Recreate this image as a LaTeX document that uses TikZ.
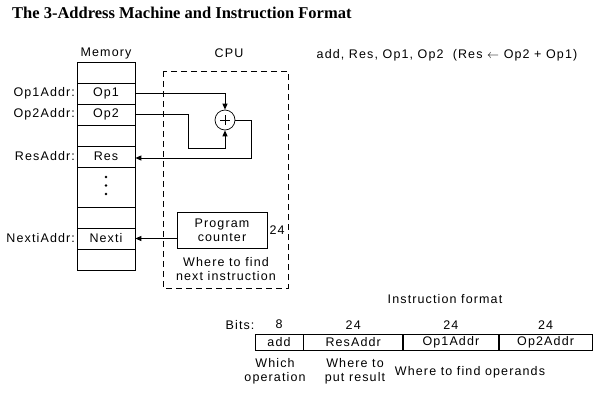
\documentclass[tikz,border=0pt]{standalone}
\usepackage{fontspec}
\setmainfont{Liberation Serif}
\newfontfamily\figfont[LetterSpace=9]{Liberation Sans}
\usetikzlibrary{arrows.meta,positioning}

\begin{document}
\begin{tikzpicture}[x=1pt,y=-1pt,
        every node/.style={font=\figfont\fontsize{12.5}{14}\selectfont},
        cell/.style={draw,line width=0.7pt,minimum width=58pt,minimum height=21pt,inner sep=0pt},
        field/.style={draw,line width=0.7pt,minimum height=16pt,inner sep=0pt},
        addr/.style={anchor=east,inner sep=1.5pt},
        wire/.style={line width=0.9pt,-{Triangle[length=6pt,width=5pt]}}]
    \useasboundingbox (0,0) rectangle (606,405);
    \node[anchor=base west,inner sep=0pt,font=\rmfamily\bfseries\fontsize{16.5}{18}\selectfont] (title) at (12,18.5) {The 3-Address Machine and Instruction Format};
    % memory
    \node (memlbl) at (106,53) {Memory};
    \node[cell] (m0) at (106,72.5) {};
    \node[cell] (op1) at (106,93.5) {Op1};
    \node[cell] (op2) at (106,114.5) {Op2};
    \node[cell] (m3) at (106,135.5) {};
    \node[cell] (res) at (106,156.5) {Res};
    \node[cell,minimum height=40pt] (gap) at (106,187) {};
    \node[cell] (m5) at (106,217.5) {};
    \node[cell] (nexti) at (106,238.5) {Nexti};
    \node[cell] (m7) at (106,259.5) {};
    \foreach \y in {177,185.5,194} \fill (106,\y) circle (1.3);
    \node[addr] at (op1.west) {Op1Addr:};
    \node[addr] at (op2.west) {Op2Addr:};
    \node[addr] at (res.west) {ResAddr:};
    \node[addr] at (nexti.west) {NextiAddr:};
    % cpu
    \node (cpulbl) at (229,53) {CPU};
    \draw[line width=0.7pt,dash pattern=on 6pt off 4pt] (163,71) rectangle (288,288);
    \node[draw,line width=0.7pt,circle,minimum size=20pt,inner sep=0pt] (add) at (225,120) {};
    \draw[line width=0.7pt] (add.center) +(-5,0) -- +(5,0) +(0,-5) -- +(0,5);
    \coordinate (bend) at (188,148);
    \coordinate (back) at (251,158);
    \draw[wire] (op1.east) -| (add.north);
    \draw[wire] (op2.east) -| (bend) -| (add.south);
    \draw[wire] (add.east) -| (back) -- (back -| res.east);
    \node[draw,line width=0.7pt,minimum width=90pt,minimum height=36pt,align=center,inner sep=0pt] (pc) at (222,230) {Program\\counter};
    \node[anchor=west,inner sep=2pt] (pcbits) at (pc.east) {24};
    \node[align=center] (where) at (226,269) {Where to find\\next instruction};
    \draw[wire] (pc.west |- nexti) -- (nexti.east);
    \node (instr) at (447,55) {add, Res, Op1, Op2\ \ (Res $\leftarrow$ Op2 + Op1)};
    % instruction format
    \node (fmtlbl) at (445,299) {Instruction format};
    \node[field,minimum width=48pt] (fadd) at (279,342) {add};
    \node[field,minimum width=99pt,anchor=west] (fres) at (fadd.east) {ResAddr};
    \node[field,minimum width=95pt,anchor=west] (fop1) at (fres.east) {Op1Addr};
    \node[field,minimum width=93pt,anchor=west] (fop2) at (fop1.east) {Op2Addr};
    \node[above=1pt of fadd] (b8) {8};
    \node[above=1pt of fres] (b24a) {24};
    \node[above=1pt of fop1] (b24b) {24};
    \node[above=1pt of fop2] (b24c) {24};
    \node[left=14pt of b8] (bits) {Bits:};
    \node[align=center] (which) at (275,371) {Which\\operation};
    \node[align=center] (put) at (355,371) {Where to\\put result};
    \node (operands) at (470,372) {Where to find operands};
\end{tikzpicture}
\end{document}
